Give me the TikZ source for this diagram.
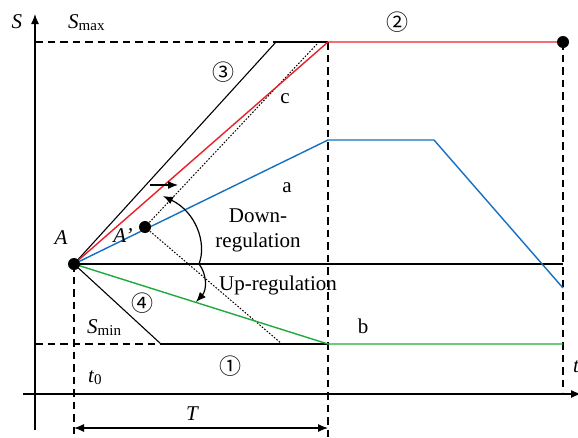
\documentclass[tikz,border=0pt]{standalone}
\usepackage{fontspec}
\setmainfont{Liberation Serif}
\newfontfamily\cjk{Noto Sans CJK SC}
\usetikzlibrary{arrows.meta}
\definecolor{cred}{RGB}{232,32,42}
\definecolor{cblue}{RGB}{20,112,192}
\definecolor{cgreen}{RGB}{30,170,60}
\newcommand{\subtxt}[1]{\raisebox{-2pt}{\fontsize{15}{15}\selectfont #1}}
\begin{document}
\begin{tikzpicture}[x=1pt,y=-1pt,
  lbl/.style={inner sep=0pt,font=\fontsize{21}{25}\selectfont},
  circ/.style={inner sep=0pt,font=\cjk\fontsize{22}{24}\selectfont},
  dsh/.style={dash pattern=on 7.5pt off 5pt, line width=1.2pt},
  blk/.style={line width=1.1pt},
  dotted2/.style={dash pattern=on 1.6pt off 1.6pt, line width=1pt},
  bigdot/.style={circle,fill=black,inner sep=0pt,minimum size=12pt},
  tip/.style={-{Latex[length=10pt,width=8pt]}},
  tips/.style={{Latex[length=10pt,width=8pt]}-{Latex[length=10pt,width=8pt]}}
]
\useasboundingbox (0,0) rectangle (578,437);
% coordinates
\coordinate (A) at (74,264);
\coordinate (Ap) at (145,227);
\coordinate (K3) at (276,42);
\coordinate (C) at (328,42);
\coordinate (R) at (563,42);
\coordinate (K4) at (161,344);
\coordinate (G) at (328,344);
\coordinate (GR) at (563,344);
\coordinate (B1) at (328,140);
\coordinate (B2) at (434,140);
\coordinate (B3) at (563,288);
\coordinate (H) at (563,264);
\coordinate (D1) at (317,44);
\coordinate (D2) at (282,344);
\coordinate (Ymax) at (35,42);
\coordinate (Ymin) at (35,344);
\coordinate (Ytop) at (35,14);
\coordinate (Ybot) at (35,430);
\coordinate (Xl) at (23,394);
\coordinate (Xr) at (581,394);
\coordinate (VA) at (74,437);
\coordinate (VC) at (328,437);
\coordinate (VR) at (563,392);
\coordinate (TL) at (74,428);
\coordinate (TR) at (328,428);
\coordinate (M) at (199,264);
\coordinate (UpEnd) at (163,196);
\coordinate (DnEnd) at (196,302);
\coordinate (HA1) at (150,185);
\coordinate (HA2) at (178,185);
% axes
\draw[line width=1.2pt,tip] (Ybot) -- (Ytop);
\draw[line width=1.2pt,tip] (Xl) -- (Xr);
% dashed guides
\draw[dsh] (Ymax) -- (K3);
\draw[dsh] (Ymin) -- (K4);
\draw[dsh] (A) -- (VA);
\draw[dsh] (C) -- (VC);
\draw[dsh] (R) -- (VR);
% black lines
\draw[blk] (K3) -- (C);
\draw[blk] (K4) -- (G);
\draw[blk] (A) -- (H);
\draw[blk] (A) -- (K3);
\draw[blk] (A) -- (K4);
% dotted
\draw[dotted2] (Ap) -- (D1);
\draw[dotted2] (Ap) -- (D2);
% coloured lines
\draw[cred,line width=1.4pt] (A) -- (C) -- (R);
\draw[cblue,line width=1.4pt] (A) -- (B1) -- (B2) -- (B3);
\draw[cgreen,line width=1.4pt] (A) -- (G) -- (GR);
% arrows
\draw[line width=1.2pt,tips] (TL) -- (TR);
\draw[line width=1.2pt,tip] (HA1) -- (HA2);
\draw[line width=1.2pt,tip] (M) .. controls (207,243) and (196,212) .. (UpEnd);
\draw[line width=1.2pt,tip] (M) .. controls (207,274) and (207,290) .. (DnEnd);
% dots
\node[bigdot] (dA) at (A) {};
\node[bigdot] (dAp) at (Ap) {};
\node[bigdot] (dR) at (R) {};
% labels
\node[lbl] (lS) at (17,22) {\itshape S};
\node[lbl,anchor=base west] (lSmax) at (68,28) {\itshape S\upshape\subtxt{max}};
\node[lbl,anchor=base west] (lSmin) at (87,333) {\itshape S\upshape\subtxt{min}};
\node[lbl,anchor=base west] (lt0) at (88,382) {\itshape t\upshape\subtxt{0}};
\node[lbl,anchor=base west] (lt) at (573,372) {\itshape t};
\node[lbl,anchor=base] (lT) at (192,420) {\itshape T};
\node[lbl] (lA) at (61,238) {\itshape A};
\node[lbl] (lAp) at (123,236) {\itshape A’};
\node[lbl,anchor=base] (lc) at (285,103) {c};
\node[lbl,anchor=base] (la) at (287,192) {a};
\node[lbl,anchor=base] (lb) at (363,333) {b};
\node[lbl,align=center,anchor=base] (ldown) at (258,247) {Down-\\regulation};
\node[lbl,anchor=base] (lup) at (278,290) {Up-regulation};
\node[circ] (n3) at (223,72) {③};
\node[circ] (n2) at (397,22) {②};
\node[circ] (n4) at (142,303) {④};
\node[circ] (n1) at (230,366) {①};
\end{tikzpicture}
\end{document}
